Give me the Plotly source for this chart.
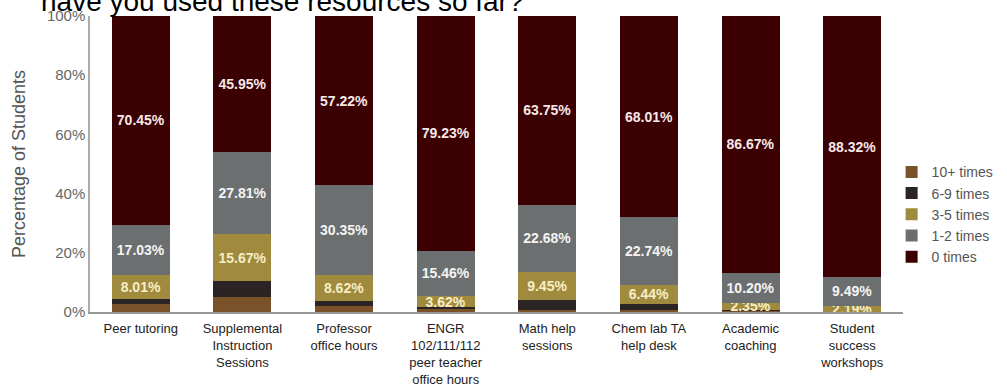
import plotly.graph_objects as go

categories = [
    "Peer tutoring",
    "Supplemental<br>Instruction<br>Sessions",
    "Professor<br>office hours",
    "ENGR<br>102/111/112<br>peer teacher<br>office hours",
    "Math help<br>sessions",
    "Chem lab TA<br>help desk",
    "Academic<br>coaching",
    "Student<br>success<br>workshops",
]

times_10_plus = [2.70, 5.00, 2.00, 0.90, 0.72, 0.81, 0.38, 0.00]
times_6_9 = [1.80, 5.57, 1.81, 0.79, 3.40, 2.00, 0.40, 0.00]
times_3_5 = [8.01, 15.67, 8.62, 3.62, 9.45, 6.44, 2.35, 2.19]
times_1_2 = [17.03, 27.81, 30.35, 15.46, 22.68, 22.74, 10.20, 9.49]
times_0 = [70.45, 45.95, 57.22, 79.23, 63.75, 68.01, 86.67, 88.32]

series = [
    ("10+ times", times_10_plus, "#7a5229", False, None),
    ("6-9 times", times_6_9, "#2b2425", False, None),
    ("3-5 times", times_3_5, "#a08a3e", True, "#f6eec6"),
    ("1-2 times", times_1_2, "#6c6f70", True, "#f4f4f4"),
    ("0 times", times_0, "#3a0002", True, "#f6e8e8"),
]

fig = go.Figure()
for name, vals, color, show_text, tcolor in series:
    kw = {}
    if show_text:
        kw = dict(
            text=[f"{v:.2f}%" for v in vals],
            textposition="inside",
            insidetextanchor="middle",
            constraintext="none",
            textfont=dict(family="Liberation Sans", size=14, color=tcolor, weight="bold"),
        )
    fig.add_trace(go.Bar(
        name=name, x=categories, y=vals,
        marker=dict(color=color, line=dict(width=0)),
        hoverinfo="skip",
        **kw,
    ))

fig.update_layout(
    barmode="stack",
    bargap=0.43,
    width=1007, height=384,
    margin=dict(l=90, r=104, t=16, b=72, autoexpand=False),
    paper_bgcolor="white", plot_bgcolor="white",
    font=dict(family="Liberation Sans", color="#555555"),
    showlegend=True,
    legend=dict(
        x=0.986, y=0.33, xanchor="left", yanchor="middle",
        traceorder="normal",
        font=dict(size=14, color="#555555"),
        itemwidth=30,
        tracegroupgap=0,
        bgcolor="rgba(0,0,0,0)",
    ),
    xaxis=dict(
        showline=True, linecolor="#9a9a9a", linewidth=1.5,
        ticks="", tickfont=dict(size=13, color="#222222"),
        ticklabelstandoff=4,
        showgrid=False, automargin=False,
    ),
    yaxis=dict(
        range=[0, 100],
        tickvals=[0, 20, 40, 60, 80, 100],
        ticktext=["0%", "20%", "40%", "60%", "80%", "100%"],
        showline=True, linecolor="#aaaaaa", linewidth=1.5,
        showgrid=False, zeroline=False, automargin=False,
        ticks="", tickfont=dict(size=15, color="#666666"),
        title=dict(text="Percentage of Students", font=dict(size=18, color="#555555"), standoff=17),
    ),
)

fig.add_annotation(
    text="have you used these resources so far?",
    xref="paper", yref="paper", x=-0.0625, y=1.0, xanchor="left", yanchor="bottom",
    yshift=-3,
    showarrow=False,
    font=dict(family="Liberation Sans", size=28, color="#000000"),
)

fig.write_html(
    "out.html",
    config={"displayModeBar": False},
    post_script="document.body.style.margin='0px';",
)
